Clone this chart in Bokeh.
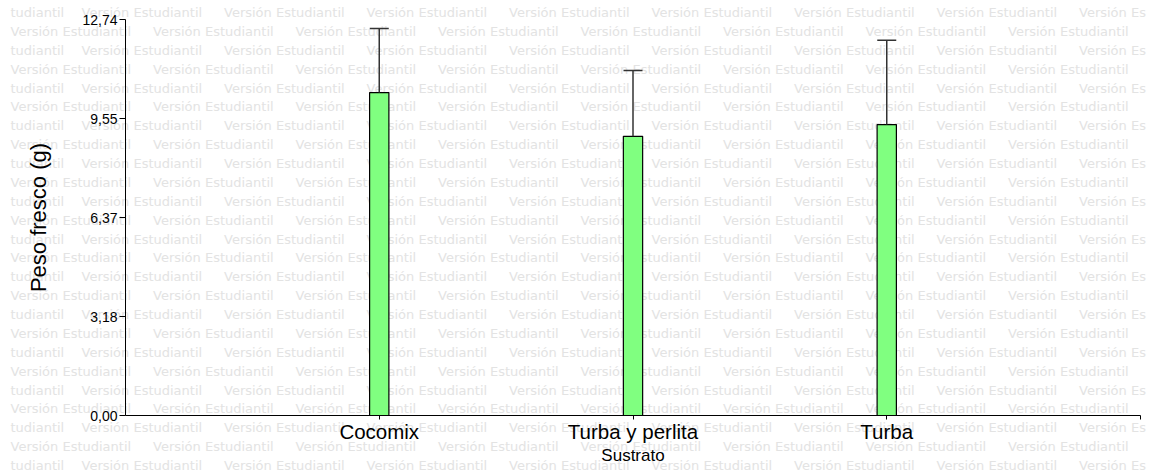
from bokeh.plotting import figure
from bokeh.models import Range1d, FixedTicker, ColumnDataSource, LabelSet, Whisker, TeeHead
from bokeh.core.properties import value
from bokeh.embed import file_html
from bokeh.resources import INLINE

# ---- data ----
categories = ["Cocomix", "Turba y perlita", "Turba"]
means = [10.39, 8.98, 9.36]
upper_err = [12.45, 11.10, 12.07]
y_ticks = [0.0, 3.185, 6.37, 9.555, 12.74]
y_tick_labels = ["0,00", "3,18", "6,37", "9,55", "12,74"]
x_label = "Sustrato"
y_label = "Peso fresco (g)"
watermark_text = "Versión Estudiantil"
watermark_head = "Versión Es"
watermark_tail = "tudiantil"

# ---- layout (frame covers the whole canvas; axes sit at fixed locations) ----
W, H = 1156, 474
AX_L, AX_R, AX_T, AX_B = 125, 1140, 19, 415   # pixel box of the axes
X0, X1 = 0, len(categories) + 1
Y0, Y1 = 0, y_ticks[-1]
PPX = (AX_R - AX_L) / (X1 - X0)
PPY = (AX_B - AX_T) / (Y1 - Y0)

x_range = Range1d(X0 - AX_L / PPX, X1 + (W - AX_R) / PPX)
y_range = Range1d(Y0 - (H - AX_B) / PPY, Y1 + AX_T / PPY)

p = figure(width=W, height=H, output_backend="svg", toolbar_location=None,
           x_range=x_range, y_range=y_range, min_border=0,
           min_border_left=0, min_border_right=0, min_border_top=0, min_border_bottom=0)
p.background_fill_color = "white"
p.border_fill_color = "white"
p.outline_line_color = None
p.xgrid.visible = False
p.ygrid.visible = False


def to_data(cx, cy):
    return (X0 + (cx - AX_L) / PPX, Y0 + (AX_B - cy) / PPY)


# ---- watermark (behind everything) ----
PERIOD = 142.5
wx, wy, wt = [], [], []
for k in range(25):
    cy = 12 + 18.875 * k
    if k % 2 == 0:
        items = [(10, watermark_tail)]
        items += [(81 + PERIOD * j, watermark_head if j == 7 else watermark_text) for j in range(8)]
    else:
        items = [(10 + PERIOD * j, watermark_text) for j in range(8)]
    for cx, txt in items:
        dx, dy = to_data(cx, cy)
        wx.append(dx)
        wy.append(dy)
        wt.append(txt)
wsrc = ColumnDataSource(dict(x=wx, y=wy, t=wt))
wm = LabelSet(x="x", y="y", text="t", source=wsrc, level="image",
              text_font=value("DejaVu Sans"), text_font_size="13px",
              text_color="#e3e3e3", text_align="left", text_baseline="middle")
p.add_layout(wm)

# ---- bars & error bars ----
xs = list(range(1, len(categories) + 1))
src = ColumnDataSource(dict(x=xs, top=means, upper=upper_err))
p.vbar(x="x", top="top", width=0.076, source=src, fill_color="#80ff80",
       line_color="black", line_width=1.2)
wh = Whisker(base="x", lower="top", upper="upper", source=src, dimension="height",
             upper_head=TeeHead(size=19, line_color="#333333", line_width=1.5),
             lower_head=None, line_color="#333333", line_width=1.5, level="glyph")
p.add_layout(wh)

# ---- axes ----
for ax in (p.xaxis[0], p.yaxis[0]):
    ax.axis_line_color = "black"
    ax.axis_line_width = 1
    ax.major_tick_line_color = "black"
    ax.major_tick_in = 0
    ax.minor_tick_line_color = None
    ax.major_label_text_color = "black"
    ax.major_label_text_font = "Liberation Sans"
    ax.axis_label_text_font = "Liberation Sans"
    ax.axis_label_text_font_style = "normal"
    ax.axis_label_text_color = "black"

p.yaxis.fixed_location = X0
p.yaxis.bounds = (Y0, Y1)
p.yaxis.ticker = FixedTicker(ticks=y_ticks)
p.yaxis.major_label_overrides = {t: s for t, s in zip(y_ticks, y_tick_labels)}
p.yaxis.major_tick_out = 6
p.yaxis.major_label_standoff = 2
p.yaxis.major_label_text_font_size = "14px"
p.yaxis.axis_label = y_label
p.yaxis.axis_label_text_font_size = "22px"
p.yaxis.axis_label_standoff = 28

p.xaxis.fixed_location = Y0
p.xaxis.bounds = (X0, X1)
p.xaxis.ticker = FixedTicker(ticks=xs + [X1])
ov = {x: c for x, c in zip(xs, categories)}
ov[X1] = ""
p.xaxis.major_label_overrides = ov
p.xaxis.major_tick_out = 4
p.xaxis.major_label_standoff = 0
p.xaxis.major_label_text_font_size = "20.5px"
p.xaxis.axis_label = x_label
p.xaxis.axis_label_text_font_size = "17px"
p.xaxis.axis_label_standoff = 0

open("out.html", "w").write(file_html(p, INLINE))
